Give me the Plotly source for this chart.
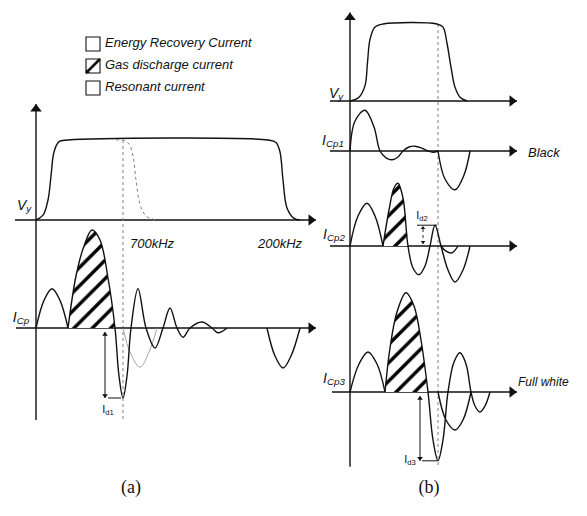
import math
import plotly.graph_objects as go

W, H = 587, 516          # browser window
PAGE = 8                 # default body margin of the page that holds the figure
FW, FH = W - PAGE, H - PAGE

# ---------------- data ----------------
# time unit = 1 division, amplitude: V_y normalised to 1, currents in arbitrary units
# Panel (a) V_y (solid, 200 kHz) and dotted fall (700 kHz)
VA_T = [0, 0.7, 1.2, 1.5, 1.8, 2.3, 3.2, 23.2, 24.0, 24.4, 24.7, 25.1, 25.8, 26.4]
VA_V = [0, 0.06, 0.25, 0.55, 0.85, 0.98, 1.0, 1.0, 0.97, 0.85, 0.5, 0.15, 0.02, 0]
VA2_T = [8.0, 8.7, 9.3, 9.7, 10.0, 10.4, 11.0, 12.1]
VA2_V = [1.0, 1.0, 0.95, 0.8, 0.5, 0.2, 0.05, 0]
# Panel (a) I_Cp
IA1_T = [0, 0.8, 1.6, 2.4, 3.2]
IA1_V = [0, 0.69, 0.98, 0.69, 0]
IA_T = [3.2, 4.0, 4.8, 5.6, 6.4, 7.2, 7.9, 8.3, 8.7, 9.1, 9.5, 10.2, 11.0, 11.9, 12.7,
        13.4, 14.1, 14.7, 15.4, 16.6, 17.6, 18.2, 19.1]
IA_V = [0, 1.3, 2.05, 2.45, 2.2, 1.25, 0, -1.2, -1.75, -1.2, 0, 0.98, 0, -0.5, 0,
        0.5, 0, -0.23, 0, 0.15, 0, -0.12, 0]
IAH_N = 7            # first 7 points form the hatched (gas discharge) hump
IAS_T = [8.7, 9.4, 10.4, 11.3, 12.1]
IAS_V = [0, -0.6, -0.98, -0.6, 0]
IAR_T = [23.1, 23.9, 24.7, 25.5, 26.4]
IAR_V = [0, -0.7, -1.0, -0.7, 0]
ID1 = -1.75

# Panel (b) V_y
VB_T = [0, 0.9, 1.5, 1.75, 2.0, 2.5, 3.3, 8.7, 9.3, 9.7, 10.1, 10.5, 11.0, 11.7]
VB_V = [0, 0.05, 0.2, 0.5, 0.8, 0.96, 1.0, 1.0, 0.96, 0.75, 0.44, 0.18, 0.05, 0]
# I_Cp1 (Black)
B1_T = [0, 0.5, 1.5, 2.4, 3.0, 3.6, 4.2, 4.8, 5.3, 5.9, 6.5, 7.1, 7.8, 8.3, 8.8]
B1_V = [0, 0.75, 1.02, 0.6, 0, -0.17, -0.22, -0.15, 0, 0.1, 0.12, 0.08, 0, -0.03, 0]
B1D_T = [8.8, 9.5, 10.5, 11.4, 12.0]
B1D_V = [0, -0.7, -0.97, -0.6, 0]
# I_Cp2
B2A_T = [0, 0.8, 1.7, 2.5, 3.3]
B2A_V = [0, 0.75, 1.07, 0.75, 0]
B2_T = [3.3, 3.9, 4.4, 4.8, 5.3, 5.8, 6.3, 6.9, 7.5, 8.0, 8.5, 9.1, 9.8, 10.5, 11.3, 12.0]
B2_V = [0, 0.9, 1.45, 1.57, 1.2, 0, -0.55, -0.72, -0.5, 0, 0.52, 0, -0.6, -0.9, -0.6, 0]
B2H_N = 6
B2S_T = [9.1, 9.6, 10.2, 10.8]
B2S_V = [0, -0.13, -0.17, 0]
ID2 = 0.52
# I_Cp3 (Full white)
B3A_T = [0, 0.9, 1.8, 2.7, 3.5]
B3A_V = [0, 0.7, 1.0, 0.7, 0]
B3_T = [3.5, 4.0, 4.7, 5.6, 6.4, 7.1, 7.8, 8.3, 8.8, 9.3, 9.8, 10.4, 11.0, 11.6, 12.1,
        12.5, 13.0, 13.5, 14.0]
B3_V = [0, 1.1, 2.0, 2.48, 2.15, 1.3, 0, -1.2, -1.72, -1.2, 0, 0.75, 0.98, 0.7, 0,
        -0.35, -0.5, -0.35, 0]
B3H_N = 7
B3S_T = [8.8, 9.6, 10.5, 11.3, 12.1]
B3S_V = [0, -0.7, -0.95, -0.7, 0]
ID3 = -1.72

LEGEND_LABELS = ["Energy Recovery Current", "Gas discharge current", "Resonant current"]

# ---------------- layout frames (window-pixel placement) ----------------
# panel: (axis id, origin px, px per time unit)
PANELS = {"a": ("x", 36, 10.0), "b": ("x2", 350, 10.0)}
# row: (panel, y-axis id, baseline px, px per amplitude unit)
ROWS = {
    "va": ("a", "y", 220, 80.0),
    "ia": ("a", "y2", 328, 40.0),
    "vb": ("b", "y3", 101, 77.0),
    "i1": ("b", "y4", 151, 40.0),
    "i2": ("b", "y5", 246, 40.0),
    "i3": ("b", "y6", 392, 40.0),
}

BLACK = "#111111"
GREY = "#808080"
SANS = "Liberation Sans, Arial, sans-serif"
SERIF = "Liberation Serif, Times New Roman, serif"

fig = go.Figure()


def refs(row):
    p, yid, _, _ = ROWS[row]
    return PANELS[p][0], yid


def scales(row):
    p, _, _, sy = ROWS[row]
    return PANELS[p][2], sy


def curve(row, T, V, color=BLACK, width=1.4, dash="solid", fill=None, pattern=None):
    xr, yr = refs(row)
    kw = {}
    if fill:
        kw = dict(fill=fill, fillpattern=pattern, fillcolor="white")
    fig.add_trace(go.Scatter(
        x=T, y=V, xaxis=xr, yaxis=yr, mode="lines", hoverinfo="skip",
        line=dict(color=color, width=width, dash=dash, shape="spline", smoothing=1.0),
        showlegend=False, **kw))


def head(row, tx, ty, ux, uy, size):
    """triangle marker whose tip sits at (tx, ty), pointing along (ux, uy) px-direction"""
    xr, yr = refs(row)
    sx, sy = scales(row)
    cx = tx - ux * size * 0.5 / sx
    cy = ty - uy * size * 0.5 / sy
    if abs(ux) > abs(uy):
        sym = "triangle-right" if ux > 0 else "triangle-left"
    else:
        sym = "triangle-up" if uy > 0 else "triangle-down"
    fig.add_trace(go.Scatter(x=[cx], y=[cy], xaxis=xr, yaxis=yr, mode="markers",
                             hoverinfo="skip", showlegend=False,
                             marker=dict(symbol=sym, size=size, color=BLACK, line=dict(width=0))))


def arrow(row, x0, y0, x1, y1, size=10, width=1.4, both=False, dash="solid", color=BLACK):
    xr, yr = refs(row)
    sx, sy = scales(row)
    fig.add_trace(go.Scatter(x=[x0, x1], y=[y0, y1], xaxis=xr, yaxis=yr, mode="lines",
                             hoverinfo="skip", showlegend=False,
                             line=dict(color=color, width=width, dash=dash)))
    dx, dy = (x1 - x0) * sx, (y1 - y0) * sy
    L = math.hypot(dx, dy)
    ux, uy = dx / L, dy / L
    head(row, x1, y1, ux, uy, size)
    if both:
        head(row, x0, y0, -ux, -uy, size)


def seg(row, x0, y0, x1, y1, width=1.2, dash="solid", color=BLACK):
    xr, yr = refs(row)
    fig.add_trace(go.Scatter(x=[x0, x1], y=[y0, y1], xaxis=xr, yaxis=yr, mode="lines",
                             hoverinfo="skip", showlegend=False,
                             line=dict(color=color, width=width, dash=dash)))


def P(px, py):
    """window pixel -> paper coordinates of the figure (which starts PAGE px in)"""
    return (px - PAGE) / FW, 1 - (py - PAGE) / FH


def label(px, py, text, size=13, anchor="center", font=SANS, italic=False):
    """text placed on a window-pixel label axis (x3 / y7)"""
    if italic:
        text = "<i>" + text + "</i>"
    pos = "middle right" if anchor == "left" else "middle center"
    fig.add_trace(go.Scatter(x=[px], y=[py], xaxis="x3", yaxis="y7", mode="text",
                             text=[text], textposition=pos, hoverinfo="skip",
                             showlegend=False,
                             textfont=dict(family=font, size=size, color=BLACK)))


HATCH = dict(shape="/", size=13, solidity=0.26, fgcolor="#000000", bgcolor="white",
             fgopacity=1)

# ---------------- panel (a) ----------------
arrow("va", 0, -2.5, 0, 1.45, size=10)           # vertical axis
arrow("va", -2.1, 0, 28.0, 0, size=10)           # V_y time axis
seg("va", 8.7, 1.0, 8.7, -2.5, width=1, dash="dot", color=GREY)
curve("va", VA_T, VA_V)
curve("va", VA2_T, VA2_V, color=GREY, width=1, dash="dot")

arrow("ia", -2.0, 0, 28.0, 0, size=10)
curve("ia", IA_T[:IAH_N], IA_V[:IAH_N], width=0, fill="tozeroy", pattern=HATCH)
curve("ia", IA1_T, IA1_V)
curve("ia", IAS_T, IAS_V, color="#9a9a9a", width=0.9)
curve("ia", IA_T, IA_V)
curve("ia", IAR_T, IAR_V)
arrow("ia", 6.9, -0.1, 6.9, ID1, size=5, width=1, both=True)
seg("ia", 7.2, ID1, 8.5, ID1, width=1)

# ---------------- panel (b) ----------------
arrow("vb", 0, -4.75, 0, 1.15, size=10)
arrow("vb", -2.0, 0, 16.7, 0, size=10)
seg("vb", 8.8, 1.0, 8.8, -4.75, width=1, dash="dot", color=GREY)
curve("vb", VB_T, VB_V)

arrow("i1", -2.0, 0, 16.7, 0, size=10)
curve("i1", B1_T, B1_V)
curve("i1", B1D_T, B1D_V)

arrow("i2", -2.0, 0, 16.7, 0, size=10)
curve("i2", B2_T[:B2H_N], B2_V[:B2H_N], width=0, fill="tozeroy", pattern=HATCH)
curve("i2", B2A_T, B2A_V)
curve("i2", B2_T, B2_V)
curve("i2", B2S_T, B2S_V)
seg("i2", 6.7, ID2, 8.7, ID2, width=1)
arrow("i2", 7.3, 0.05, 7.3, ID2 - 0.02, size=4, width=0.9, both=True, dash="dot")

arrow("i3", -1.8, 0, 16.7, 0, size=10)
curve("i3", B3_T[:B3H_N], B3_V[:B3H_N], width=0, fill="tozeroy", pattern=HATCH)
curve("i3", B3A_T, B3A_V)
curve("i3", B3_T, B3_V)
curve("i3", B3S_T, B3S_V)
arrow("i3", 7.0, -0.1, 7.0, ID3, size=5, width=1, both=True)
seg("i3", 7.2, ID3, 8.7, ID3, width=1)

# ---------------- labels ----------------
label(24, 206, "V<sub>y</sub>", 14, italic=True)
label(21, 318, "I<sub>Cp</sub>", 14, italic=True)
label(108, 410, "I<sub>d1</sub>", 11)
label(152, 245, "700kHz", 13, italic=True)
label(280, 245, "200kHz", 13, italic=True)
label(336, 94, "V<sub>y</sub>", 14, italic=True)
label(333, 141, "I<sub>Cp1</sub>", 14, italic=True)
label(334, 235, "I<sub>Cp2</sub>", 14, italic=True)
label(334, 379, "I<sub>Cp3</sub>", 14, italic=True)
label(422, 216, "I<sub>d2</sub>", 11)
label(410, 460, "I<sub>d3</sub>", 11)
label(528, 154, "Black", 13, anchor="left", italic=True)
label(518, 383, "Full white", 12, anchor="left", italic=True)
label(131, 488, "(a)", 18, font=SERIF)
label(429, 488, "(b)", 18, font=SERIF)

# legend
LEG_Y = [44, 66, 88]
for i, (yy, txt) in enumerate(zip(LEG_Y, LEGEND_LABELS)):
    x0, y0 = P(86, yy + 7)
    x1, y1 = P(100, yy - 7)
    fig.add_shape(type="rect", x0=x0, y0=y0, x1=x1, y1=y1, xref="paper", yref="paper",
                  line=dict(color=BLACK, width=1.1), fillcolor="white")
    if i == 1:
        fig.add_shape(type="line", x0=x0, y0=y0, x1=x1, y1=y1, xref="paper", yref="paper",
                      line=dict(color=BLACK, width=2.6))
        tx, ty = P(90, yy + 3)
        fig.add_shape(type="path", xref="paper", yref="paper",
                      path=f"M {x0},{y0} L {tx},{y0} L {x0},{ty} Z",
                      fillcolor=BLACK, line=dict(width=0))
    label(105, yy, txt, 13, anchor="left", italic=True)

fig.update_layout(
    width=FW, height=FH, margin=dict(l=0, r=0, t=0, b=0, pad=0),
    paper_bgcolor="white", plot_bgcolor="white", showlegend=False,
)

ax_common = dict(visible=False, showgrid=False, zeroline=False, fixedrange=True)
for name, (xid, ox, sx) in PANELS.items():
    key = "xaxis" if xid == "x" else "xaxis" + xid[1:]
    cfg = dict(domain=[0, 1], range=[(PAGE - ox) / sx, (W - ox) / sx], **ax_common)
    if xid != "x":
        cfg["overlaying"] = "x"
    fig.update_layout(**{key: cfg})
for row, (p, yid, base, sy) in ROWS.items():
    key = "yaxis" if yid == "y" else "yaxis" + yid[1:]
    cfg = dict(domain=[0, 1], range=[(base - H) / sy, (base - PAGE) / sy], **ax_common)
    if yid != "y":
        cfg["overlaying"] = "y"
    fig.update_layout(**{key: cfg})
# window-pixel axes for text labels
fig.update_layout(
    xaxis3=dict(domain=[0, 1], range=[PAGE, W], overlaying="x", **ax_common),
    yaxis7=dict(domain=[0, 1], range=[H, PAGE], overlaying="y", **ax_common),
)

fig.write_html("out.html")
